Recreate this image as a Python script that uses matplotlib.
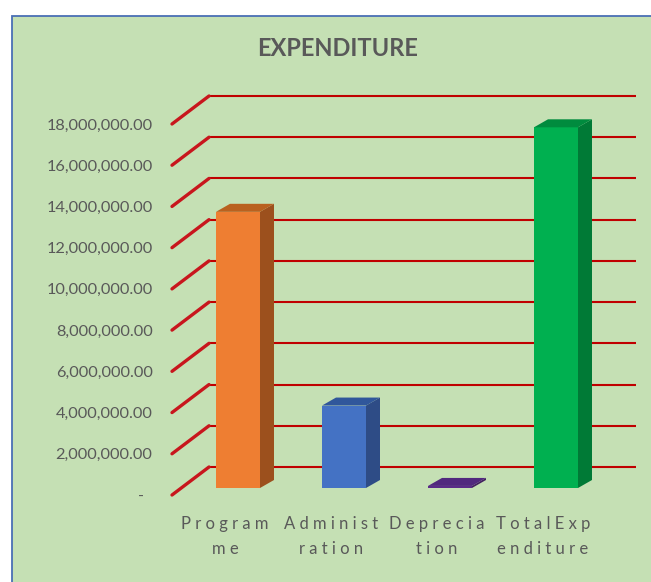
import matplotlib
matplotlib.use("Agg")
import matplotlib.pyplot as plt
from matplotlib.patches import Rectangle, Polygon
from matplotlib.lines import Line2D
from matplotlib.transforms import Affine2D, IdentityTransform, blended_transform_factory

plt.rcParams['font.family'] = ['Lato', 'DejaVu Sans']

# ---- data ----
categories = ["Programme", "Administration", "Depreciation", "TotalExpenditure"]
label_line1 = ["Program", "Administ", "Deprecia", "TotalExp"]
label_line2 = ["me", "ration", "tion", "enditure"]
values = [13400000, 4000000, 100000, 17500000]
yticks = [0, 2000000, 4000000, 6000000, 8000000, 10000000, 12000000, 14000000, 16000000, 18000000]
ytick_labels = ["-  ", "2,000,000.00", "4,000,000.00", "6,000,000.00", "8,000,000.00",
                "10,000,000.00", "12,000,000.00", "14,000,000.00", "16,000,000.00", "18,000,000.00"]
title = "EXPENDITURE"

front_colors = ["#EE7E32", "#4472C4", "#5A2B88", "#00B050"]
side_colors = ["#9C501D", "#2E4C86", "#42205F", "#007A36"]
top_colors = ["#B9611F", "#30579B", "#51287E", "#008B3E"]

W, H = 651, 582
fig = plt.figure(figsize=(W / 100, H / 100), dpi=100)
fig.patch.set_facecolor("white")
bg = Rectangle((11.5 / W, -0.02), 1.0, (H - 15.5) / H + 0.02, transform=fig.transFigure,
               facecolor="#C5E0B4", edgecolor="#4A6FB5", lw=1.3, zorder=-10)
fig.patches.append(bg)

ax = fig.add_axes([172 / W, 87 / H, 424 / W, 371 / H])
ax.set_xlim(-0.5, 3.5)
ax.set_ylim(0, 18000000)
ax.patch.set_visible(False)
for s in ax.spines.values():
    s.set_visible(False)
ax.set_xticks([])
ax.set_yticks(yticks)
ax.set_yticklabels(ytick_labels)
ax.tick_params(axis="y", length=0, pad=14, labelsize=11.8, labelcolor="#595959")

DX, DY = 37, 28      # wall depth (pixels)
FX, FY = 13, 7       # bar front plane offset
BX, BY = 14, 8       # bar depth
bw = 44 / 106

back = ax.transData + Affine2D().translate(DX, DY)
ident = IdentityTransform()
red = "#C00000"

for yt in yticks:
    ax.plot([-0.5, 3.53], [yt, yt], transform=back, color=red, lw=1.5, zorder=1,
            solid_capstyle="butt", clip_on=False)
    p0 = ax.transData.transform((-0.5, yt))
    ln = Line2D([p0[0], p0[0] + DX], [p0[1], p0[1] + DY], transform=ident, color="#C8161D",
                lw=2.4, solid_capstyle="round", zorder=2)
    fig.add_artist(ln)

front_tr = ax.transData + Affine2D().translate(FX, FY)
for i, v in enumerate(values):
    x0 = i - bw / 2
    ax.add_patch(Rectangle((x0, 0), bw, v, transform=front_tr, facecolor=front_colors[i],
                           edgecolor="none", zorder=3, clip_on=False))
    bl = ax.transData.transform((x0, 0)) + (FX, FY)
    br = ax.transData.transform((x0 + bw, 0)) + (FX, FY)
    tl = ax.transData.transform((x0, v)) + (FX, FY)
    tr = ax.transData.transform((x0 + bw, v)) + (FX, FY)
    side = [br, tr, tr + (BX, BY), br + (BX, BY)]
    top = [tl, tr, tr + (BX, BY), tl + (BX, BY)]
    fig.add_artist(Polygon(side, closed=True, transform=ident, facecolor=side_colors[i],
                           edgecolor="none", zorder=3))
    fig.add_artist(Polygon(top, closed=True, transform=ident, facecolor=top_colors[i],
                           edgecolor="none", zorder=3))

lab_tr = blended_transform_factory(ax.transData, fig.transFigure)
for i in range(len(categories)):
    ax.text(i, 1 - 524 / H, " ".join(label_line1[i]), transform=lab_tr, ha="center", va="center",
            fontsize=12, color="#595959")
    ax.text(i, 1 - 549 / H, " ".join(label_line2[i]), transform=lab_tr, ha="center", va="center",
            fontsize=12, color="#595959")

fig.text(338 / W, 1 - 49 / H, title, ha="center", va="center", fontsize=17, fontweight="bold",
         color="#595959")

fig.savefig("out.png", dpi=100, facecolor=fig.get_facecolor())
